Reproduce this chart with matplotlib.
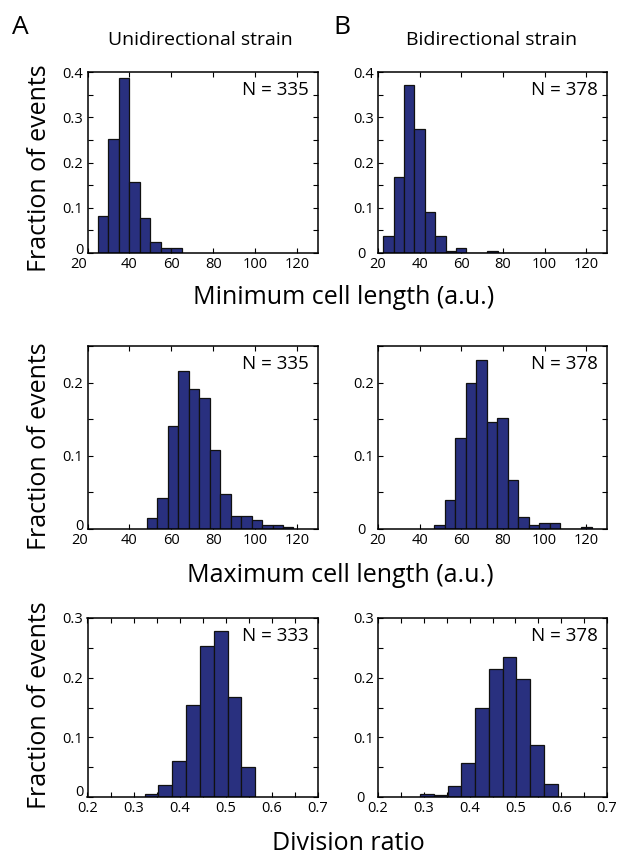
import matplotlib
matplotlib.use("Agg")
import matplotlib.pyplot as plt
from matplotlib.ticker import MultipleLocator, FuncFormatter
from matplotlib.transforms import ScaledTranslation

plt.rcParams['font.family'] = ['Open Sans', 'DejaVu Sans']

# ---------------- data ----------------
uni_min_centers = [27.5, 32.5, 37.5, 42.5, 47.5, 52.5, 57.5, 62.5]
uni_min_frac = [0.081, 0.252, 0.387, 0.158, 0.077, 0.024, 0.011, 0.011]

bi_min_centers = [25, 30, 35, 40, 45, 50, 55, 60, 65, 70, 75, 80, 85]
bi_min_frac = [0.037, 0.169, 0.371, 0.275, 0.090, 0.037, 0.005, 0.011, 0, 0, 0.005, 0, 0]

uni_max_centers = [50.8, 55.8, 60.8, 65.8, 70.8, 75.8, 80.8, 85.8, 90.8, 95.8,
                   100.8, 105.8, 110.8, 115.8]
uni_max_frac = [0.0155, 0.042, 0.141, 0.2155, 0.191, 0.179, 0.108, 0.048, 0.018,
                0.018, 0.012, 0.006, 0.006, 0.003]

bi_max_centers = [49.6, 54.6, 59.7, 64.7, 69.8, 74.8, 79.8, 84.9, 89.9, 95.0,
                  100.0, 105.0, 110.1, 115.1, 120.2]
bi_max_frac = [0.0055, 0.040, 0.125, 0.199, 0.231, 0.146, 0.151, 0.067, 0.016,
               0.0055, 0.0087, 0.0087, 0, 0, 0.003]

uni_ratio_centers = [0.339, 0.369, 0.399, 0.429, 0.459, 0.489, 0.519, 0.549]
uni_ratio_frac = [0.005, 0.020, 0.060, 0.155, 0.2525, 0.279, 0.168, 0.050]

bi_ratio_centers = [0.307, 0.337, 0.367, 0.397, 0.427, 0.457, 0.487, 0.517, 0.547, 0.577]
bi_ratio_frac = [0.005, 0.003, 0.018, 0.0575, 0.150, 0.214, 0.235, 0.198, 0.087, 0.021]

n_labels = [["N = 335", "N = 378"], ["N = 335", "N = 378"], ["N = 333", "N = 378"]]
column_titles = ["Unidirectional strain", "Bidirectional strain"]
row_xlabels = ["Minimum cell length (a.u.)", "Maximum cell length (a.u.)", "Division ratio"]
ylabel = "Fraction of events"

# ---------------- layout ----------------
W, H = 617, 857
fig = plt.figure(figsize=(W / 100, H / 100), dpi=100)

BAR_COLOR = "#29307f"

def px_axes(l, t, r, b):
    return fig.add_axes([l / W, 1 - b / H, (r - l) / W, (b - t) / H])

rows = [(72, 253), (346, 529), (618, 797)]
cols = [(87.5, 318), (378, 607)]

panels = [
    [(uni_min_centers, uni_min_frac, 5.0), (bi_min_centers, bi_min_frac, 5.0)],
    [(uni_max_centers, uni_max_frac, 5.0), (bi_max_centers, bi_max_frac, 5.04)],
    [(uni_ratio_centers, uni_ratio_frac, 0.030), (bi_ratio_centers, bi_ratio_frac, 0.0301)],
]
xlims = [(20, 130), (20, 130), (0.2, 0.7)]
ylims = [(0, 0.4), (0, 0.25), (0, 0.3)]

# pixel nudges of the corner tick labels, (x-label dx, y-label dx, y-label dy)
corner_nudges = [
    [(-9, 0, 5), (0, -8, 0)],
    [(-8, 0, 5), (0, -8, 0)],
    [(0, 0, 7), (0, -9, 0)],
]

def yfmt(v, pos):
    r = round(v * 10)
    if abs(v * 10 - r) > 1e-6:
        return ""
    return "0" if r == 0 else f"{v:.1f}"

def xfmt_len(v, pos):
    return f"{int(round(v))}"

def xfmt_ratio(v, pos):
    r = round(v * 10)
    if abs(v * 10 - r) > 1e-6:
        return ""
    return f"{v:.1f}"

axes = []
for i, (t, b) in enumerate(rows):
    for j, (l, r) in enumerate(cols):
        ax = px_axes(l, t, r, b)
        centers, frac, width = panels[i][j]
        ax.bar(centers, frac, width=width, color=BAR_COLOR, edgecolor="#111111",
               linewidth=0.9, align="center", zorder=2)
        ax.set_xlim(*xlims[i])
        ax.set_ylim(*ylims[i])
        ax.yaxis.set_major_locator(MultipleLocator(0.05))
        ax.yaxis.set_major_formatter(FuncFormatter(yfmt))
        if i < 2:
            ax.xaxis.set_major_locator(MultipleLocator(20))
            ax.xaxis.set_major_formatter(FuncFormatter(xfmt_len))
        else:
            ax.xaxis.set_major_locator(MultipleLocator(0.05))
            ax.xaxis.set_major_formatter(FuncFormatter(xfmt_ratio))
        ax.tick_params(direction="in", top=True, right=True, length=3.5, width=0.8,
                       labelsize=10.5, colors="black", pad=3)
        for s in ax.spines.values():
            s.set_linewidth(1.1)
        ax.text(0.96, 0.9, n_labels[i][j], transform=ax.transAxes, ha="right",
                va="center", fontsize=13.5)
        axes.append((ax, xlims[i][0], ylims[i][0], corner_nudges[i][j]))

# nudge the corner labels apart, as in the original figure
fig.canvas.draw()
for ax, x0, y0, (xdx, ydx, ydy) in axes:
    ysh = ScaledTranslation(ydx / 100, ydy / 100, fig.dpi_scale_trans)
    xsh = ScaledTranslation(xdx / 100, 0, fig.dpi_scale_trans)
    for tick in ax.yaxis.get_major_ticks():
        if abs(tick.get_loc() - y0) < 1e-9:
            tick.label1.set_transform(tick.label1.get_transform() + ysh)
    for tick in ax.xaxis.get_major_ticks():
        if abs(tick.get_loc() - x0) < 1e-9:
            tick.label1.set_transform(tick.label1.get_transform() + xsh)

# column titles and panel letters
fig.text(200 / W, 1 - 40 / H, column_titles[0], ha="center", va="center", fontsize=14)
fig.text(492 / W, 1 - 40 / H, column_titles[1], ha="center", va="center", fontsize=14)
fig.text(20 / W, 1 - 27 / H, "A", ha="center", va="center", fontsize=19)
fig.text(342 / W, 1 - 27 / H, "B", ha="center", va="center", fontsize=19)

# y labels
for yc in [168, 446, 705]:
    fig.text(40 / W, 1 - yc / H, ylabel, rotation=90, ha="center", va="center",
             fontsize=18)

# x labels
fig.text(344 / W, 1 - 297 / H, row_xlabels[0], ha="center", va="center", fontsize=18)
fig.text(340 / W, 1 - 575 / H, row_xlabels[1], ha="center", va="center", fontsize=18)
fig.text(348 / W, 1 - 843 / H, row_xlabels[2], ha="center", va="center", fontsize=18)

fig.savefig("out.png", dpi=100)
